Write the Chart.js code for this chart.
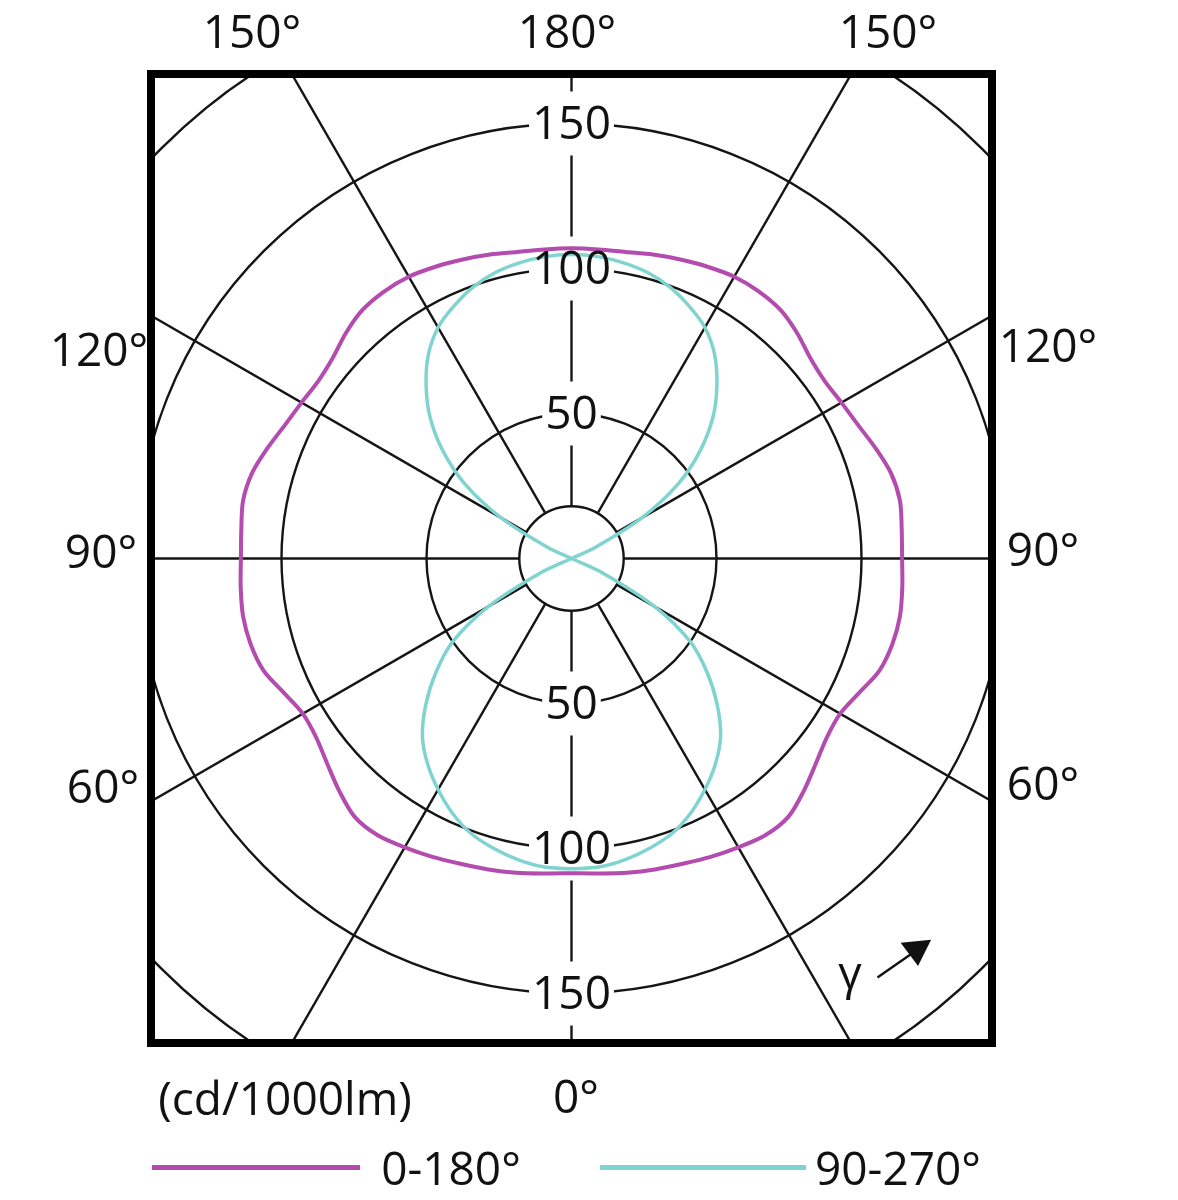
<!DOCTYPE html>
<html>
<head>
<meta charset="utf-8">
<script src="https://cdn.jsdelivr.net/npm/chart.js@4/dist/chart.umd.min.js"></script>
<style>
  body { margin: 0; background: #fff; }
  #wrap { position: relative; width: 1178px; height: 1200px; font-family: 'Open Sans', sans-serif; color: #111; }
  canvas { position: absolute; left: 0; top: 0; }
  .lbl { position: absolute; font-size: 46px; line-height: 1; white-space: nowrap; transform: translate(-50%, -50%); }
  .key { position: absolute; height: 5px; top: 1165px; }
</style>
</head>
<body>
<div id="wrap">
  <canvas id="polar" width="1178" height="1200"></canvas>
  <div class="lbl" style="left:252px;top:30px">150°</div>
  <div class="lbl" style="left:567px;top:30px">180°</div>
  <div class="lbl" style="left:888px;top:30px">150°</div>
  <div class="lbl" style="left:99px;top:348px">120°</div>
  <div class="lbl" style="left:1048px;top:344px">120°</div>
  <div class="lbl" style="left:101px;top:550px">90°</div>
  <div class="lbl" style="left:1043px;top:548px">90°</div>
  <div class="lbl" style="left:103px;top:785px">60°</div>
  <div class="lbl" style="left:1043px;top:782px">60°</div>
  <div class="lbl" style="left:576px;top:1095px">0°</div>
  <div class="lbl" style="left:285px;top:1097px">(cd/1000lm)</div>
  <div class="key" style="left:152px;width:208px;background:#b44bae"></div>
  <div class="lbl" style="left:451px;top:1167px">0-180°</div>
  <div class="key" style="left:600px;width:206px;background:#80d4d0"></div>
  <div class="lbl" style="left:898px;top:1167px">90-270°</div>
</div>
<script>
// gamma angles (0 = straight down, 180 = straight up)
const angles = [0, 5, 10, 15, 20, 25, 30, 35, 40, 45, 50, 55, 60, 65, 70, 75, 80, 85, 90,
  95, 100, 105, 110, 115, 120, 125, 130, 135, 140, 145, 150, 155, 160, 165, 170, 175, 180];

// cd/1000lm, plane C0-C180
const c0180 = [108.5, 109, 110, 111, 112, 113.5, 115, 116.5, 116.3, 113.3, 110, 107.5, 107, 109.5, 113, 114.5, 115, 114.5, 114,
  114.3, 115, 114, 111.5, 109, 107.5, 106.6, 107.5, 110, 112, 112.5, 112.2, 111, 109.7, 108.5, 107.3, 107, 107];

// cd/1000lm, plane C90-C270
const c90270 = [107, 106.8, 105.5, 103.5, 101, 97, 92, 86.5, 80, 71, 61, 50, 33, 12, 0, 0, 0, 0, 0,
  0, 0, 0, 0, 9, 28, 45, 58, 69, 78, 86, 92, 96, 99.5, 102, 103.5, 104.5, 104.8];

const ringValues = [18, 50, 100, 150, 200];
const ringLabels = [50, 100, 150];
const spokeAngles = [0, 30, 60, 90, 120, 150, 180, 210, 240, 270, 300, 330];

const rad = d => d * Math.PI / 180;

// right half goes up, left half comes back down
const toPoints = vals => {
  const pts = [];
  angles.forEach((g, i) => pts.push({ x: vals[i] * Math.sin(rad(g)), y: -vals[i] * Math.cos(rad(g)) }));
  for (let i = angles.length - 2; i >= 0; i--) {
    const g = angles[i];
    pts.push({ x: -vals[i] * Math.sin(rad(g)), y: -vals[i] * Math.cos(rad(g)) });
  }
  return pts;
};

const labelFont = "46px 'Open Sans', sans-serif";

const polarGrid = {
  id: 'polarGrid',
  beforeDatasetsDraw(chart) {
    const { ctx, chartArea: a, scales: { x, y } } = chart;
    const cx = x.getPixelForValue(0), cy = y.getPixelForValue(0);
    const k = x.getPixelForValue(1) - cx;
    ctx.save();
    ctx.beginPath();
    ctx.rect(a.left, a.top, a.width, a.height);
    ctx.clip();
    ctx.strokeStyle = '#151515';
    ctx.lineWidth = 2.4;
    ringValues.forEach(v => {
      ctx.beginPath();
      ctx.arc(cx, cy, v * k, 0, 2 * Math.PI);
      ctx.stroke();
    });
    spokeAngles.forEach(g => {
      const s = Math.sin(rad(g)), c = Math.cos(rad(g));
      ctx.beginPath();
      ctx.moveTo(cx + s * ringValues[0] * k, cy + c * ringValues[0] * k);
      ctx.lineTo(cx + s * 240 * k, cy + c * 240 * k);
      ctx.stroke();
    });
    // gaps behind the ring labels
    ctx.font = labelFont;
    ctx.fillStyle = '#fff';
    ringLabels.forEach(v => {
      const w = ctx.measureText(String(v)).width + 6;
      [-1, 1].forEach(side => ctx.fillRect(cx - w / 2, cy + side * v * k - 32, w, 64));
    });
    ctx.restore();
  },
  afterDatasetsDraw(chart) {
    const { ctx, chartArea: a, scales: { x, y } } = chart;
    const cx = x.getPixelForValue(0), cy = y.getPixelForValue(0);
    const k = x.getPixelForValue(1) - cx;
    ctx.save();
    ctx.font = labelFont;
    ctx.fillStyle = '#111';
    ctx.textAlign = 'center';
    ctx.textBaseline = 'middle';
    ringLabels.forEach(v => {
      ctx.fillText(String(v), cx, cy - v * k + 2);
      ctx.fillText(String(v), cx, cy + v * k + 2);
    });
    // gamma arrow
    const px = (u, w) => [x.getPixelForValue(u), y.getPixelForValue(w)];
    ctx.fillText('γ', ...px(96, -144));
    ctx.strokeStyle = '#111';
    ctx.lineWidth = 2.4;
    ctx.beginPath();
    ctx.moveTo(...px(105.5, -144.5));
    ctx.lineTo(...px(117, -136.5));
    ctx.stroke();
    ctx.beginPath();
    ctx.moveTo(...px(113.5, -132.5));
    ctx.lineTo(...px(124, -131.5));
    ctx.lineTo(...px(119.5, -140.5));
    ctx.closePath();
    ctx.fill();
    // frame
    ctx.lineWidth = 8;
    ctx.strokeStyle = '#000';
    ctx.strokeRect(a.left, a.top, a.width, a.height);
    ctx.restore();
  }
};

new Chart(document.getElementById('polar'), {
  type: 'scatter',
  data: {
    datasets: [
      { label: '90-270°', data: toPoints(c90270), borderColor: '#80d4d0', borderWidth: 3.5, showLine: true, pointRadius: 0, tension: 0.3 },
      { label: '0-180°', data: toPoints(c0180), borderColor: '#b44bae', borderWidth: 4, showLine: true, pointRadius: 0, tension: 0.3 }
    ]
  },
  options: {
    responsive: false,
    animation: false,
    layout: { padding: { left: 151, right: 186, top: 74, bottom: 157 } },
    scales: {
      x: { type: 'linear', min: -145, max: 145, display: false },
      y: { type: 'linear', min: -167.07, max: 167.07, display: false }
    },
    plugins: { legend: { display: false }, tooltip: { enabled: false } }
  },
  plugins: [polarGrid]
});
</script>
</body>
</html>
